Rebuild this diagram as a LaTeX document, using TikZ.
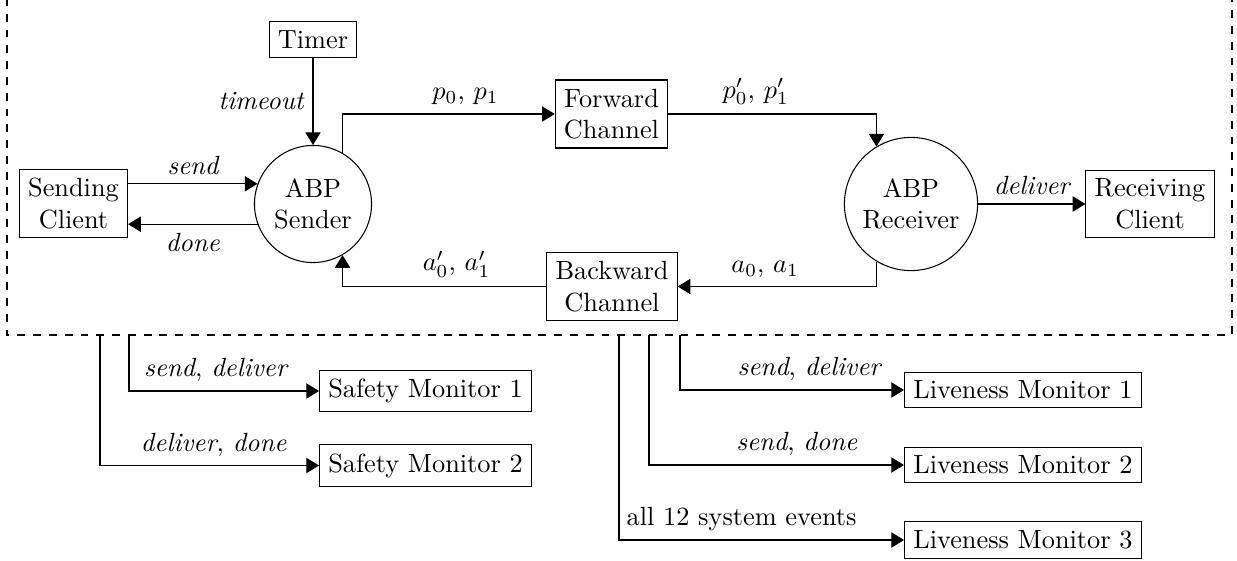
\documentclass[tikz,border=0pt]{standalone}
\usetikzlibrary{arrows.meta}
\begin{document}
\begin{tikzpicture}[x=0.38pt,y=-0.38pt,
  box/.style={draw,rectangle,align=center},
  circ/.style={draw,circle,align=center},
  arr/.style={-{Triangle[length=4.8pt,width=5.8pt]}},
  lbl/.style={font=\itshape}]
\useasboundingbox (0,0) rectangle (1237,560);
\draw[dashed] (7,-2) -- (7,335) -- (1232,335) -- (1232,-2);
% system nodes
\node[box] (timer) at (313,39.5) {Timer};
\node[circ] (sender) at (313,204) {ABP\\Sender};
\node[box] (sclient) at (73.5,203.5) {Sending\\Client};
\node[box] (fwd) at (611.5,114) {Forward\\Channel};
\node[box] (bwd) at (612,286.5) {Backward\\Channel};
\node[circ] (receiver) at (911,204) {ABP\\Receiver};
\node[box] (rclient) at (1150,204) {Receiving\\Client};
% monitors
\node[box,anchor=west] (sm1) at (319,391) {Safety Monitor 1};
\node[box,anchor=west] (sm2) at (319,465.5) {Safety Monitor 2};
\node[box,anchor=west] (lm1) at (904,390) {Liveness Monitor 1};
\node[box,anchor=west] (lm2) at (904,465) {Liveness Monitor 2};
\node[box,anchor=west] (lm3) at (904,540) {Liveness Monitor 3};
% taps on the system boundary
\coordinate (t1) at (129,335);
\coordinate (t2) at (100,335);
\coordinate (t3) at (680,335);
\coordinate (t4) at (649,335);
\coordinate (t5) at (619,335);
% connectors
\draw[arr] (timer) -- node[left,lbl]{timeout} (sender);
\draw[arr] (sclient.east |- sender.160) -- node[above,lbl]{send} (sender.160);
\draw[arr] (sender.200) -- node[below,lbl]{done} (sclient.east |- sender.200);
\draw[arr] (sender.60) |- node[pos=0.79,above]{$p_0$, $p_1$} (fwd.west);
\draw[arr] (fwd.east) -| node[pos=0.21,above]{$p'_0$, $p'_1$} (receiver.121);
\draw[arr] (receiver.239) |- node[pos=0.78,above]{$a_0$, $a_1$} (bwd.east);
\draw[arr] (bwd.west) -| node[pos=0.22,above]{$a'_0$, $a'_1$} (sender.300);
\draw[arr] (receiver) -- node[above,lbl]{deliver} (rclient);
\draw[arr] (t1) |- node[pos=0.73,above]{\emph{send}, \emph{deliver}} (sm1.west);
\draw[arr] (t2) |- node[pos=0.76,above]{\emph{deliver}, \emph{done}} (sm2.west);
\draw[arr] (t3) |- node[pos=0.79,above]{\emph{send}, \emph{deliver}} (lm1.west);
\draw[arr] (t4) |- node[pos=0.79,above]{\emph{send}, \emph{done}} (lm2.west);
\draw[arr] (t5) |- node[pos=0.715,above]{all 12 system events} (lm3.west);
\end{tikzpicture}
\end{document}
